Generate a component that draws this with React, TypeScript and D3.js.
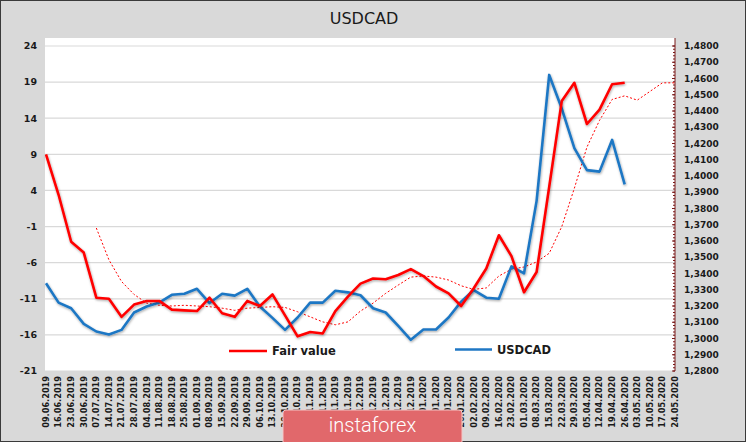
import React from "react";
import * as d3 from "d3";

const categories = [
  "09.06.2019","16.06.2019","23.06.2019","30.06.2019","07.07.2019","14.07.2019","21.07.2019","28.07.2019",
  "04.08.2019","11.08.2019","18.08.2019","25.08.2019","01.09.2019","08.09.2019","15.09.2019","22.09.2019",
  "29.09.2019","06.10.2019","13.10.2019","20.10.2019","27.10.2019","03.11.2019","10.11.2019","17.11.2019",
  "24.11.2019","01.12.2019","08.12.2019","15.12.2019","22.12.2019","29.12.2019","05.01.2020","12.01.2020",
  "19.01.2020","26.01.2020","02.02.2020","09.02.2020","16.02.2020","23.02.2020","01.03.2020","08.03.2020",
  "15.03.2020","22.03.2020","29.03.2020","05.04.2020","12.04.2020","19.04.2020","26.04.2020","03.05.2020",
  "10.05.2020","17.05.2020","24.05.2020",
];

const fairValue: (number | null)[] = [
  9.0, 3.4, -3.1, -4.6, -10.85, -11.0, -13.5, -11.8, -11.3, -11.3, -12.5, -12.6, -12.7, -10.85, -13.0, -13.5,
  -11.3, -12.0, -10.4, -13.3, -16.2, -15.6, -15.8, -12.7, -10.7, -8.9, -8.2, -8.3, -7.7, -6.9, -7.85, -9.3,
  -10.25, -12.0, -9.55, -6.8, -2.2, -5.1, -10.1, -7.3, 4.5, 16.4, 18.9, 13.2, 15.2, 18.7, 18.9,
];

const usdcad: (number | null)[] = [
  1.334, 1.3221, 1.3186, 1.309, 1.3043, 1.3025, 1.3053, 1.316, 1.3197, 1.3221, 1.3269, 1.3275, 1.3306, 1.3218,
  1.3275, 1.3264, 1.3306, 1.3197, 1.3127, 1.3053, 1.3129, 1.3221, 1.3221, 1.3294, 1.3284, 1.3266, 1.3186,
  1.316, 1.3077, 1.2992, 1.3055, 1.3055, 1.3129, 1.3227, 1.3298, 1.3251, 1.3245, 1.3444, 1.3401, 1.3847,
  1.4622, 1.4415, 1.4171, 1.4036, 1.4027, 1.4222, 1.3949,
];

const fairValueAvg: (number | null)[] = [
  null, null, null, null, -1.2, -5.6, -8.6, -10.4, -11.6, -11.9, -12.0, -11.9, -12.0, -12.1, -12.3, -12.6,
  -12.3, -12.2, -12.1, -12.2, -12.8, -13.5, -14.2, -14.6, -14.2, -12.7, -11.6, -10.25, -9.1, -8.0, -7.85,
  -8.0, -8.4, -9.2, -9.7, -9.5, -7.85, -6.9, -6.6, -5.9, -4.7, -1.0, 4.3, 10.0, 13.7, 16.6, 17.1, 16.5,
  17.7, 18.9, 18.9,
];

const leftTicks = [24, 19, 14, 9, 4, -1, -6, -11, -16, -21];
const rightTicks = [1.48, 1.47, 1.46, 1.45, 1.44, 1.43, 1.42, 1.41, 1.4, 1.39, 1.38, 1.37, 1.36, 1.35, 1.34, 1.33, 1.32, 1.31, 1.3, 1.29, 1.28];

const W = 746;
const H = 442;
const plot = { left: 45, right: 675, top: 38, bottom: 371 };
const FONT = "'DejaVu Sans', Verdana, sans-serif";

export default function App() {
  const x = d3.scalePoint<string>().domain(categories).range([46, 675]);
  const yL = d3.scaleLinear().domain([-21, 24]).range([371, 46]);
  const yR = d3.scaleLinear().domain([1.28, 1.48]).range([371, 46]);

  const lineL = d3
    .line<number | null>()
    .defined((d) => d !== null)
    .x((_, i) => x(categories[i]) as number)
    .y((d) => yL(d as number));
  const lineR = d3
    .line<number | null>()
    .defined((d) => d !== null)
    .x((_, i) => x(categories[i]) as number)
    .y((d) => yR(d as number));

  const minor = d3.range(1.28, 1.4801, 0.002);
  const fmtR = (v: number) => v.toFixed(4).replace(".", ",");

  return (
    <div style={{ position: "fixed", left: 0, top: 0 }}>
      <svg width={W} height={H} style={{ display: "block" }}>
        <defs>
          <filter id="sh" x="-5%" y="-5%" width="110%" height="120%">
            <feDropShadow dx="0.6" dy="1.2" stdDeviation="0.8" floodColor="#000" floodOpacity="0.35" />
          </filter>
        </defs>
        <rect x={0} y={0} width={W} height={H} fill="#d9d9d9" />
        <rect x={0.5} y={0.5} width={W - 1} height={H - 1} fill="none" stroke="#3a3a3a" strokeWidth={1} />
        <text x={364} y={24} textAnchor="middle" fontFamily={FONT} fontSize={16} fill="#1a1a1a">
          USDCAD
        </text>
        <rect x={plot.left} y={plot.top} width={plot.right - plot.left} height={plot.bottom - plot.top} fill="#ffffff" />
        {leftTicks.map((t) => (
          <line key={"g" + t} x1={plot.left} x2={plot.right} y1={yL(t)} y2={yL(t)} stroke="#d9d9d9" strokeWidth={1.2} />
        ))}
        {leftTicks.map((t) => (
          <text key={"l" + t} x={37} y={yL(t)} dy="0.35em" textAnchor="end" fontFamily={FONT} fontWeight="bold" fontSize={9.5} fill="#1a1a1a">
            {t}
          </text>
        ))}
        <line x1={plot.right} x2={plot.right} y1={plot.top} y2={plot.bottom} stroke="#7a1a1a" strokeWidth={1} />
        {minor.map((m, i) => (
          <line key={"m" + i} x1={plot.right - 2} x2={plot.right} y1={yR(m)} y2={yR(m)} stroke="#7a1a1a" strokeWidth={1} />
        ))}
        {rightTicks.map((t) => (
          <g key={"r" + t}>
            <line x1={plot.right - 3} x2={plot.right} y1={yR(t)} y2={yR(t)} stroke="#7a1a1a" strokeWidth={1} />
            <text x={684} y={yR(t)} dy="0.35em" textAnchor="start" fontFamily={FONT} fontWeight="bold" fontSize={9} fill="#1a1a1a">
              {fmtR(t)}
            </text>
          </g>
        ))}
        {categories.map((c) => (
          <text
            key={c}
            transform={`translate(${x(c)},376) rotate(-90)`}
            dy="0.35em"
            textAnchor="end"
            fontFamily={FONT}
            fontWeight="bold"
            fontSize={8.2}
            fill="#1a1a1a"
          >
            {c}
          </text>
        ))}
        <path d={lineL(fairValueAvg) || ""} fill="none" stroke="#ff0000" strokeWidth={1} strokeDasharray="2,2" />
        <path d={lineR(usdcad) || ""} fill="none" stroke="#1f77c4" strokeWidth={2.6} strokeLinejoin="round" filter="url(#sh)" />
        <path d={lineL(fairValue) || ""} fill="none" stroke="#ff0000" strokeWidth={2.6} strokeLinejoin="round" filter="url(#sh)" />
        <line x1={229} x2={267} y1={351} y2={351} stroke="#ff0000" strokeWidth={2.6} />
        <text x={272} y={351} dy="0.35em" fontFamily={FONT} fontWeight="bold" fontSize={11.5} fill="#1a1a1a">
          Fair value
        </text>
        <line x1={455} x2={492} y1={349.5} y2={349.5} stroke="#1f77c4" strokeWidth={2.6} />
        <text x={497} y={349.5} dy="0.35em" fontFamily={FONT} fontWeight="bold" fontSize={11.5} fill="#1a1a1a">
          USDCAD
        </text>
        <rect x={283} y={410} width={179} height={36} rx={3} fill="#e1686b" stroke="#f4c6c6" strokeWidth={1} />
        <text x={372.5} y={432} textAnchor="middle" fontFamily="Roboto, 'Open Sans', sans-serif" fontWeight={300} fontSize={20} fill="#ffffff">
          instaforex
        </text>
      </svg>
    </div>
  );
}
